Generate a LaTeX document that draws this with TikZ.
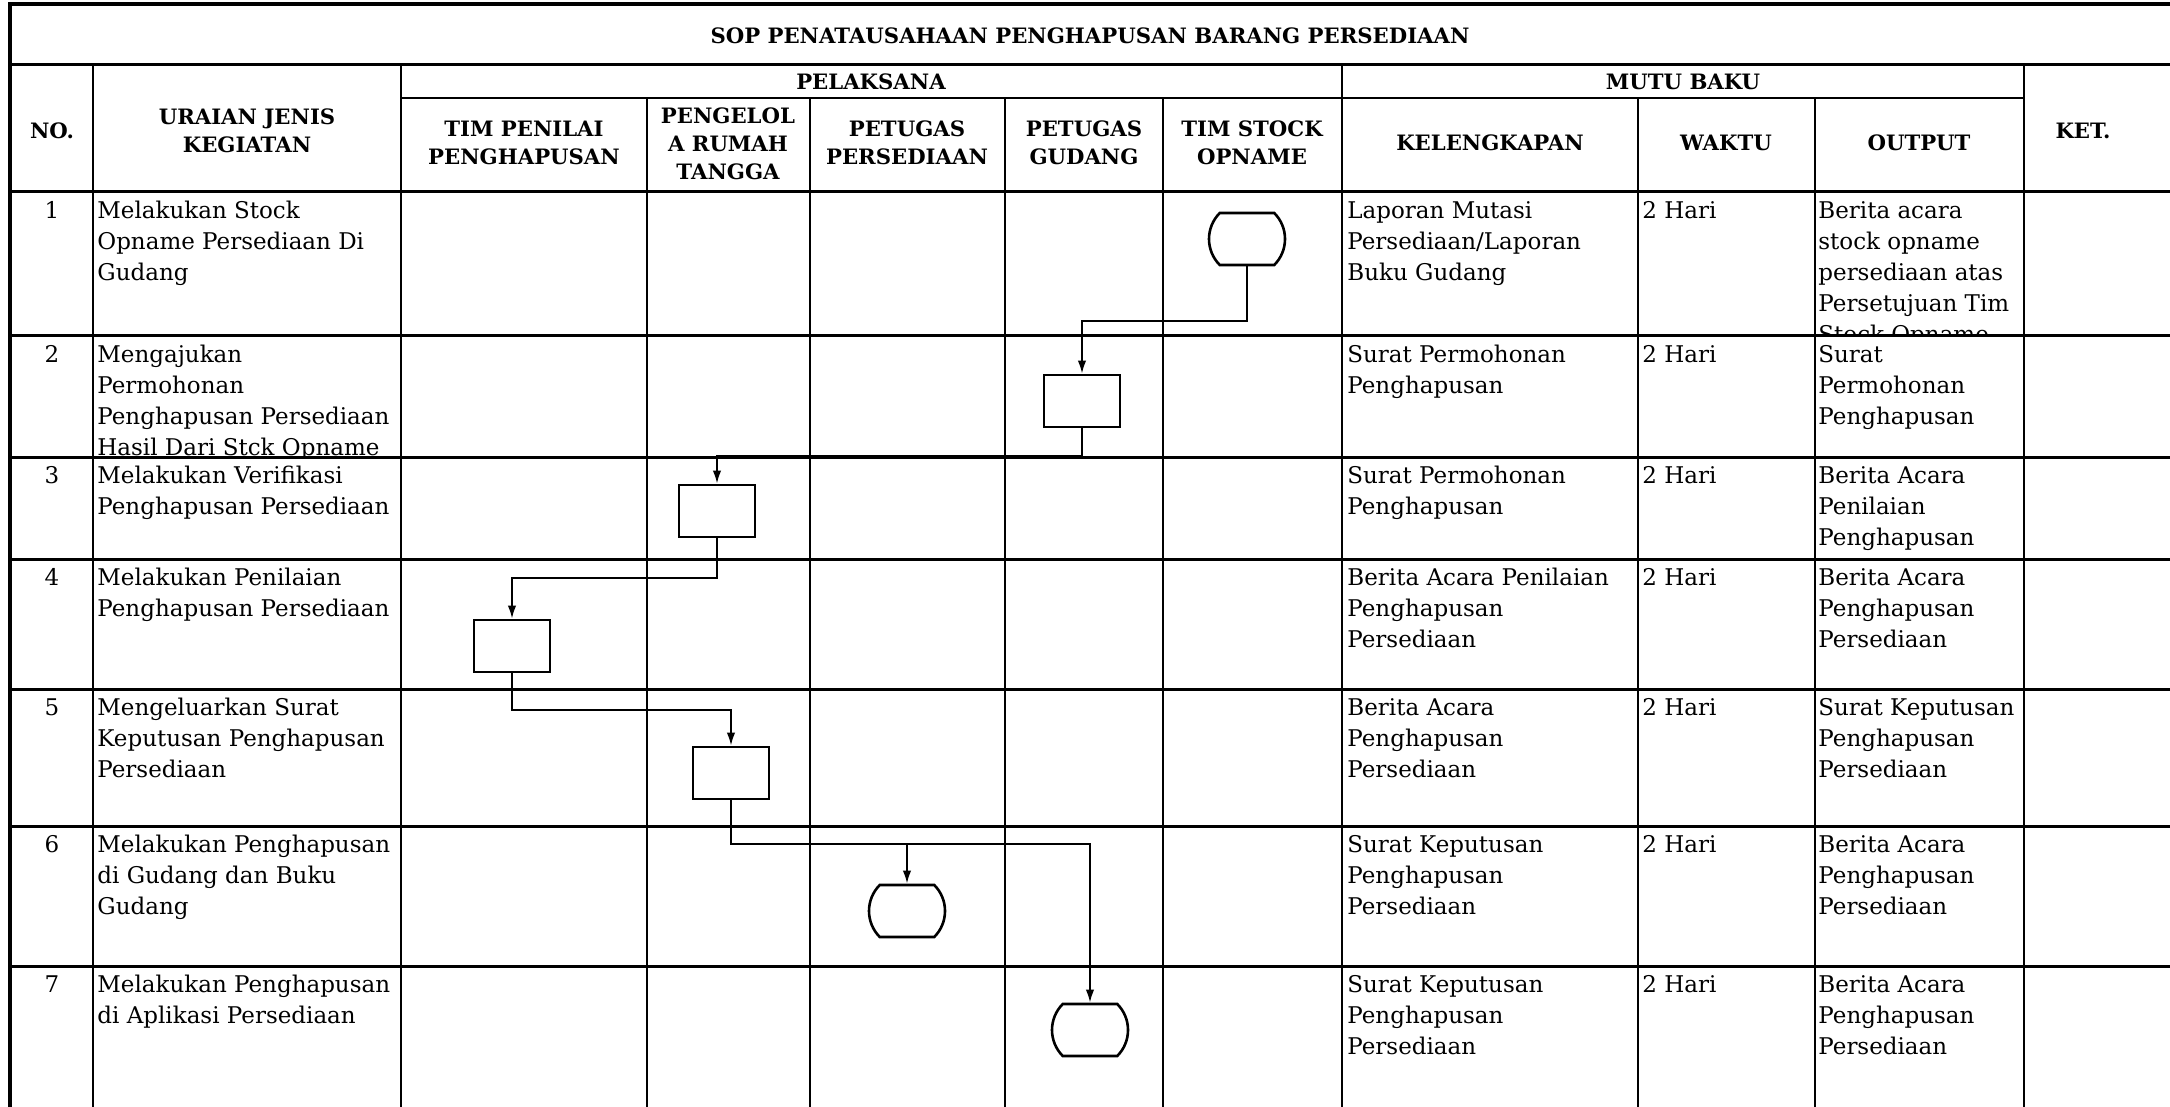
\documentclass[tikz,border=0pt]{standalone}
\usepackage{fontspec}
\setmainfont{DejaVu Serif}
\usetikzlibrary{arrows.meta, shapes.misc}

\begin{document}
\begin{tikzpicture}[
  x=0.5pt, y=-0.5pt,
  grid/.style={line width=1.1pt},
  rowline/.style={line width=1.5pt},
  frame/.style={line width=2.2pt},
  head/.style={align=center, inner sep=0pt, font=\bfseries\fontsize{10.6}{14}\selectfont},
  cell/.style={anchor=north west, align=left, inner sep=0pt, font=\fontsize{11.5}{15.5}\selectfont},
  num/.style={anchor=north, inner sep=0pt, font=\fontsize{11.5}{15.5}\selectfont},
  proc/.style={draw, line width=1.3pt, minimum width=38pt, minimum height=26pt, inner sep=0pt},
  term/.style={draw, line width=1.3pt, rounded rectangle, rounded rectangle arc length=90, minimum width=38pt, minimum height=26pt, inner sep=0pt},
  arr/.style={-{Latex[length=6.5pt,width=4.2pt]}, line width=1pt}
]
\useasboundingbox (0,0) rectangle (2170,1107);

% table lines
\draw[frame] (10,1107) -- (10,4) -- (2170,4);
\foreach \y in {65,192,336,457,559,689,826,966}
  \draw[rowline] (10,\y) -- (2170,\y);
\draw[grid] (401,98) -- (2024,98);
\foreach \x in {93,401,1342,2024}
  \draw[grid] (\x,65) -- (\x,1107);
\foreach \x in {647,810,1005,1163,1638,1815}
  \draw[grid] (\x,98) -- (\x,1107);

% header
\node[head] (title) at (1090,36) {SOP PENATAUSAHAAN PENGHAPUSAN BARANG PERSEDIAAN};
\node[head] (no) at (52,131) {NO.};
\node[head] (uraian) at (247,131) {URAIAN JENIS\\KEGIATAN};
\node[head] (pelaksana) at (871,82) {PELAKSANA};
\node[head] (mutu) at (1683,82) {MUTU BAKU};
\node[head] (ket) at (2083,131) {KET.};
\node[head] (timpen) at (524,143) {TIM PENILAI\\PENGHAPUSAN};
\node[head] (rumah) at (728,144) {PENGELOL\\A RUMAH\\TANGGA};
\node[head] (pers) at (907,143) {PETUGAS\\PERSEDIAAN};
\node[head] (gudang) at (1084,143) {PETUGAS\\GUDANG};
\node[head] (stock) at (1252,143) {TIM STOCK\\OPNAME};
\node[head] (lengkap) at (1490,143) {KELENGKAPAN};
\node[head] (waktu) at (1726,143) {WAKTU};
\node[head] (output) at (1919,143) {OUTPUT};

% rows
\foreach \nr/\ya/\yb/\ura/\kel/\outp in {
  1/192/336/{Melakukan Stock\\Opname Persediaan Di\\Gudang}/{Laporan Mutasi\\Persediaan/Laporan\\Buku Gudang}/{Berita acara\\stock opname\\persediaan atas\\Persetujuan Tim\\Stock Opname},
  2/336/457/{Mengajukan\\Permohonan\\Penghapusan Persediaan\\Hasil Dari Stck Opname}/{Surat Permohonan\\Penghapusan}/{Surat\\Permohonan\\Penghapusan},
  3/457/559/{Melakukan Verifikasi\\Penghapusan Persediaan}/{Surat Permohonan\\Penghapusan}/{Berita Acara\\Penilaian\\Penghapusan},
  4/559/689/{Melakukan Penilaian\\Penghapusan Persediaan}/{Berita Acara Penilaian\\Penghapusan\\Persediaan}/{Berita Acara\\Penghapusan\\Persediaan},
  5/689/826/{Mengeluarkan Surat\\Keputusan Penghapusan\\Persediaan}/{Berita Acara\\Penghapusan\\Persediaan}/{Surat Keputusan\\Penghapusan\\Persediaan},
  6/826/966/{Melakukan Penghapusan\\di Gudang dan Buku\\Gudang}/{Surat Keputusan\\Penghapusan\\Persediaan}/{Berita Acara\\Penghapusan\\Persediaan},
  7/966/1107/{Melakukan Penghapusan\\di Aplikasi Persediaan}/{Surat Keputusan\\Penghapusan\\Persediaan}/{Berita Acara\\Penghapusan\\Persediaan}} {
  \node[num] (nr\nr) at (52,\ya+9) {\nr};
  \begin{scope}
    \clip (93,\ya) rectangle (401,\yb);
    \node[cell] (ura\nr) at (97,\ya+9) {\ura};
  \end{scope}
  \node[cell] (kel\nr) at (1347,\ya+9) {\kel};
  \node[cell] (wkt\nr) at (1642,\ya+9) {2 Hari};
  \begin{scope}
    \clip (1815,\ya) rectangle (2024,\yb);
    \node[cell] (out\nr) at (1818,\ya+9) {\outp};
  \end{scope}
}

% flow
\node[term] (t1) at (1247,239) {};
\node[proc] (b2) at (1082,401) {};
\node[proc] (b3) at (717,511) {};
\node[proc] (b4) at (512,646) {};
\node[proc] (b5) at (731,773) {};
\node[term] (t6) at (907,911) {};
\node[term] (t7) at (1090,1030) {};
\foreach \a/\b/\d in {t1/b2/55, b2/b3/28, b3/b4/40, b4/b5/37, b5/t6/44, b5/t7/44}
  \draw[arr] (\a.south) -- ++(0,\d) -| (\b.north);
\end{tikzpicture}
\end{document}
